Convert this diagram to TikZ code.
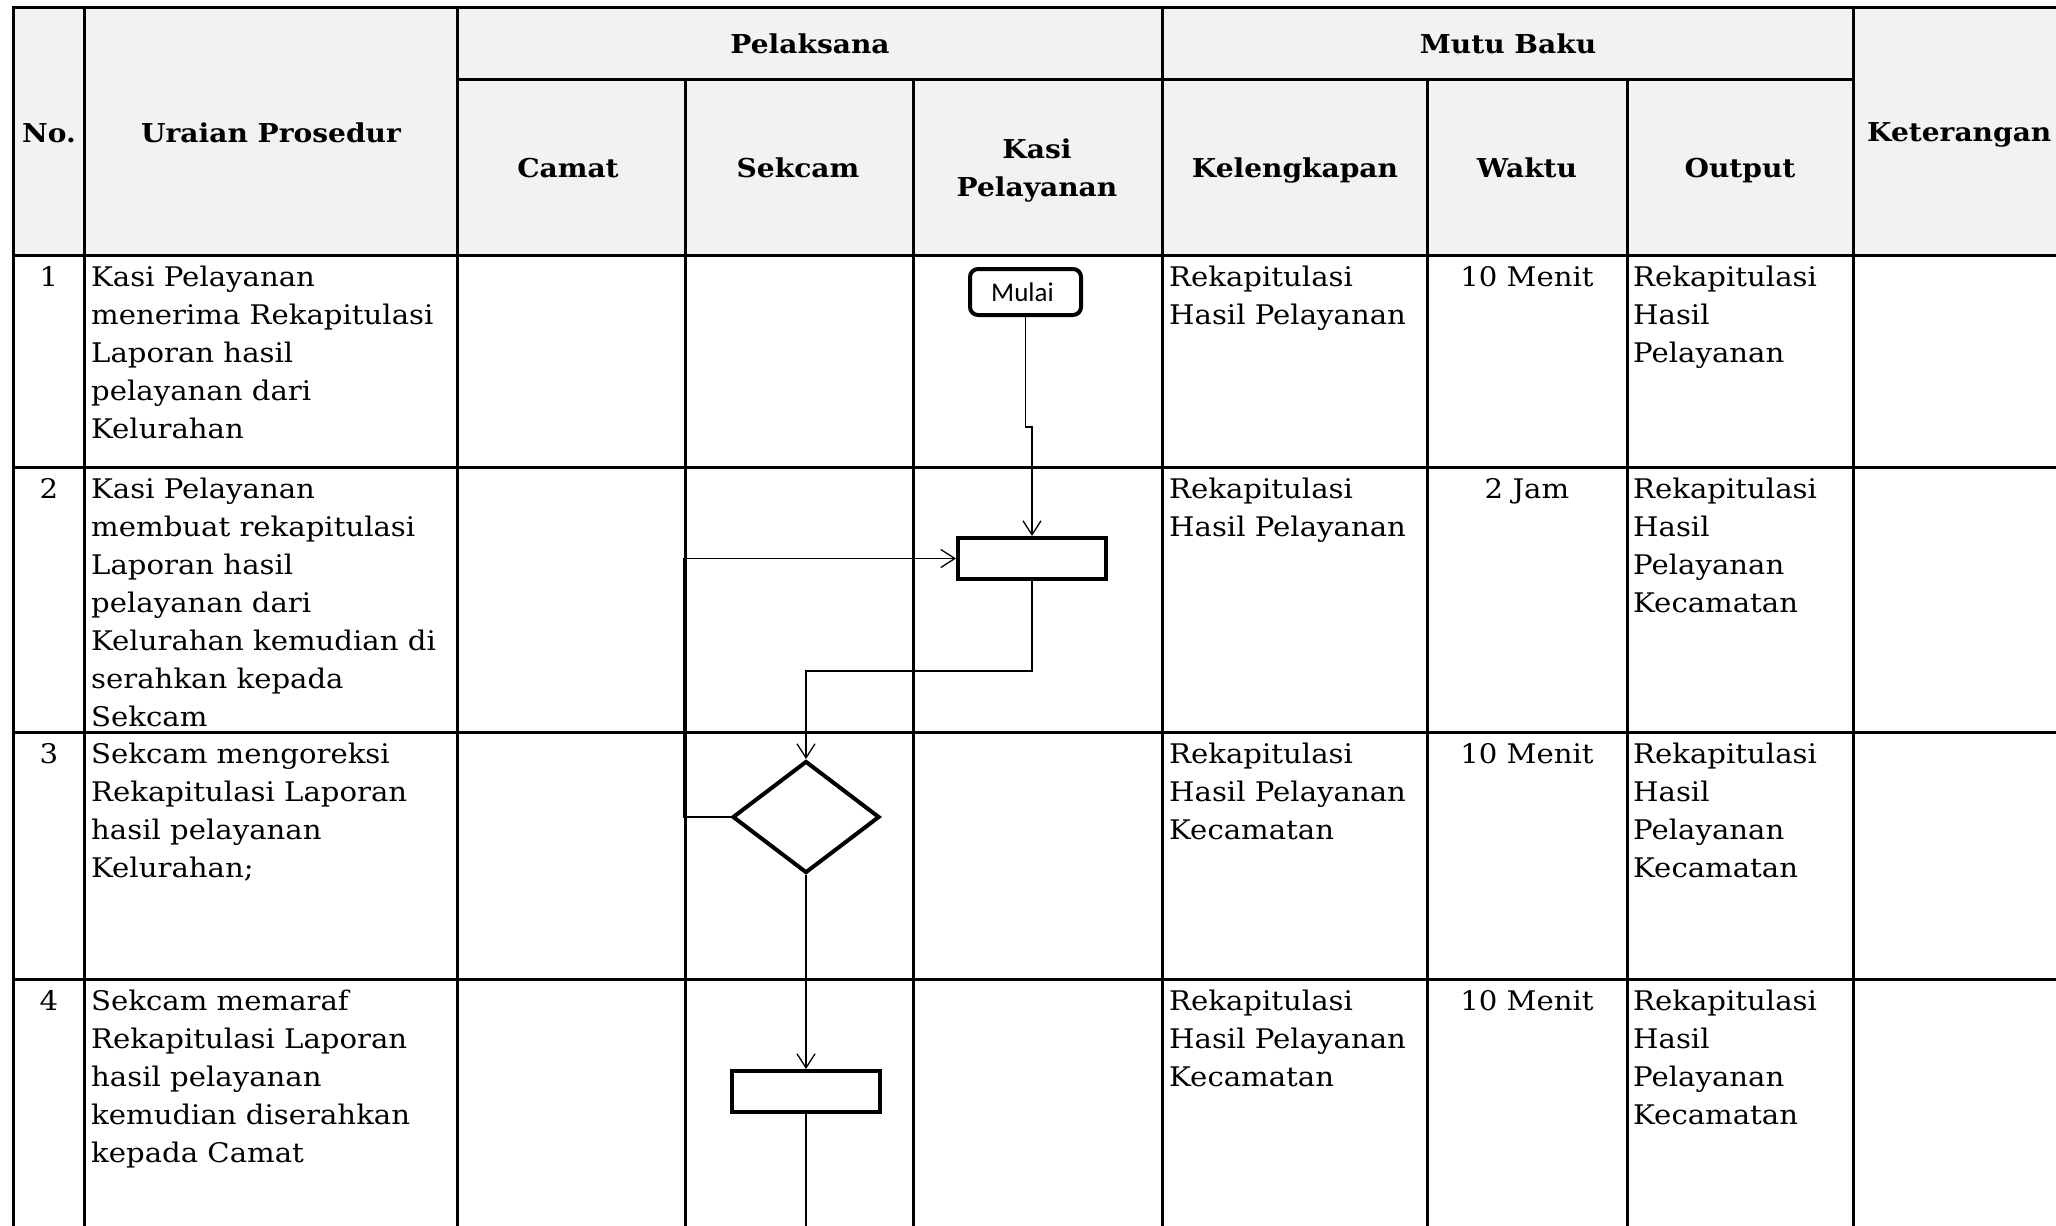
\documentclass[tikz,border=0pt]{standalone}
\usepackage{fontspec}
\setmainfont[FakeStretch=1.08]{DejaVu Serif}
\newfontfamily\mulaifont{Carlito}
\usetikzlibrary{shapes.geometric,arrows.meta}
\definecolor{hdrfill}{HTML}{F2F2F2}
\begin{document}
\begin{tikzpicture}[x=1pt,y=-1pt,
  tline/.style={line width=3pt,line cap=rect},
  hdr/.style={font=\fontsize{26}{38}\selectfont\bfseries, inner sep=0pt, anchor=base},
  txt/.style={font=\fontsize{27}{38}\selectfont, inner sep=0pt, anchor=north west, align=left},
  num/.style={font=\fontsize{27}{38}\selectfont, inner sep=0pt, anchor=base},
  procbox/.style={draw, line width=4pt, fill=white, minimum width=148pt, minimum height=41pt, inner sep=0pt},
  startbox/.style={draw, line width=4pt, fill=white, rounded corners=8pt, minimum width=111pt, minimum height=46pt, inner sep=0pt, font=\mulaifont\fontsize{27}{30}\selectfont},
  decbox/.style={draw, shape=diamond, line width=4pt, fill=white, minimum width=147pt, minimum height=112pt, inner sep=0pt},
  conn/.style={line width=1.3pt, -{Straight Barb[length=14pt,width=18pt]}},
  plain/.style={line width=1.3pt}
]
\useasboundingbox (0,0) rectangle (2056,1226);
% header background
\fill[hdrfill] (13,7) rectangle (2056,255);
% table lines
\draw[tline] (13,7) -- (2056,7);
\draw[tline] (457,79) -- (1853,79);
\foreach \yy in {255,467,732,979} \draw[tline] (13,\yy) -- (2056,\yy);
\foreach \xx in {13,84,457,1162,1853} \draw[tline] (\xx,7) -- (\xx,1226);
\foreach \xx in {685,913,1427,1627} \draw[tline] (\xx,79) -- (\xx,1226);

% header texts
\node[hdr] (hno) at (49,142) {No.};
\node[hdr] (hur) at (271,142) {Uraian Prosedur};
\node[hdr] (hpel) at (810,53) {Pelaksana};
\node[hdr] (hmutu) at (1508,53) {Mutu Baku};
\node[hdr] (hcamat) at (568,177) {Camat};
\node[hdr] (hsek) at (798,177) {Sekcam};
\node[hdr, anchor=north, align=center] (hkasi) at (1037,131.4) {\strut Kasi\\Pelayanan};
\node[hdr] (hkel) at (1295,177) {Kelengkapan};
\node[hdr] (hwak) at (1527,177) {Waktu};
\node[hdr] (hout) at (1740,177) {Output};
\node[hdr, anchor=base west] (hket) at (1867,141) {Keterangan};

% row 1
\node[num] (n1) at (49,286) {1};
\node[txt] (u1) at (91,259.4) {\strut Kasi Pelayanan\\menerima Rekapitulasi\\Laporan hasil\\pelayanan dari\\Kelurahan};
\node[txt] (k1) at (1169,259.4) {\strut Rekapitulasi\\Hasil Pelayanan};
\node[num] (w1) at (1527,286) {10 Menit};
\node[txt] (o1) at (1633,259.4) {\strut Rekapitulasi\\Hasil\\Pelayanan};
% row 2
\node[num] (n2) at (49,498) {2};
\node[txt] (u2) at (91,471.4) {\strut Kasi Pelayanan\\membuat rekapitulasi\\Laporan hasil\\pelayanan dari\\Kelurahan kemudian di\\serahkan kepada\\Sekcam};
\node[txt] (k2) at (1169,471.4) {\strut Rekapitulasi\\Hasil Pelayanan};
\node[num] (w2) at (1527,498) {2 Jam};
\node[txt] (o2) at (1633,471.4) {\strut Rekapitulasi\\Hasil\\Pelayanan\\Kecamatan};
% row 3
\node[num] (n3) at (49,763) {3};
\node[txt] (u3) at (91,736.4) {\strut Sekcam mengoreksi\\Rekapitulasi Laporan\\hasil pelayanan\\Kelurahan;};
\node[txt] (k3) at (1169,736.4) {\strut Rekapitulasi\\Hasil Pelayanan\\Kecamatan};
\node[num] (w3) at (1527,763) {10 Menit};
\node[txt] (o3) at (1633,736.4) {\strut Rekapitulasi\\Hasil\\Pelayanan\\Kecamatan};
% row 4
\node[num] (n4) at (49,1010) {4};
\node[txt] (u4) at (91,983.4) {\strut Sekcam memaraf\\Rekapitulasi Laporan\\hasil pelayanan\\kemudian diserahkan\\kepada Camat};
\node[txt] (k4) at (1169,983.4) {\strut Rekapitulasi\\Hasil Pelayanan\\Kecamatan};
\node[num] (w4) at (1527,1010) {10 Menit};
\node[txt] (o4) at (1633,983.4) {\strut Rekapitulasi\\Hasil\\Pelayanan\\Kecamatan};

% flowchart shapes
\node[startbox] (mulai) at (1025.5,292) {Mulai\hspace*{6pt}};
\node[procbox] (p1) at (1032,558.5) {};
\node[decbox] (d1) at (806,817) {};
\node[procbox] (p2) at (806,1091.5) {};

% connectors
\coordinate (j1) at (1032,427);
\draw[conn] (mulai.south) -- (mulai.south |- j1) -- (j1) -- (p1.north);
\coordinate (j2) at (806,671);
\draw[conn] (p1.south) -- (p1.south |- j2) -- (j2) -- (d1.north);
\coordinate (lp) at (683.5,690);
\draw[conn] (d1.west) -- (d1.west -| lp) -- (lp |- p1.west) -- (p1.west);
\draw[conn] (d1.south) -- (p2.north);
\coordinate (bot) at (806,1230);
\draw[plain] (p2.south) -- (bot);
\end{tikzpicture}
\end{document}
